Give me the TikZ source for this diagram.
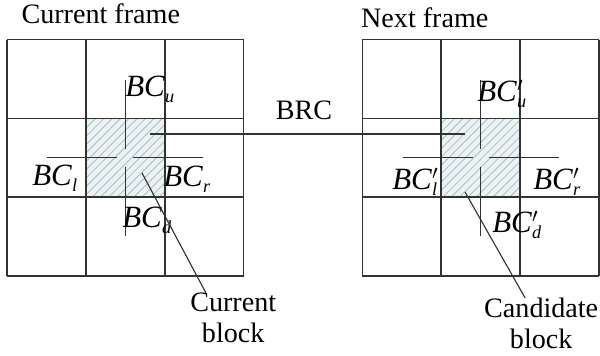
\documentclass[tikz,border=0pt]{standalone}
\usepackage{fontspec}
\setmainfont{Liberation Serif}
\usepackage{tikz}
\usetikzlibrary{patterns.meta}
\definecolor{gridgray}{RGB}{50,50,50}
\definecolor{hatchbg}{RGB}{236,242,239}
\definecolor{hatchln}{RGB}{165,188,212}

% block labels with subscripts
\newcommand{\bcsub}[1]{{\fontsize{22}{22}\selectfont\textit{BC}}\raisebox{-4pt}{\fontsize{13}{13}\selectfont\textit{#1}}}
\newcommand{\bcdash}[1]{{\fontsize{22}{22}\selectfont\textit{BC}}\rlap{$'$}\raisebox{-4pt}{\fontsize{13}{13}\selectfont\textit{#1}}}

\begin{document}
\begin{tikzpicture}[
    every node/.style={inner sep=0pt, font=\fontsize{20}{22}\selectfont},
    gridline/.style={draw=gridgray, line width=1.1pt},
    thinline/.style={draw=gridgray, line width=0.8pt},
    hatched/.style={fill=hatchbg, postaction={pattern={Lines[angle=45,distance=4.2pt,line width=0.6pt]}, pattern color=hatchln}}
]
    \useasboundingbox (0,0) rectangle (15,8.9);

    % hatched middle blocks
    \node[hatched, minimum size=1.97cm] at (3.135, 4.955) (cur) {};
    \node[hatched, minimum size=1.97cm] at (12.015, 4.955) (cand) {};

    % the two 3x3 grids
    \foreach \x in {0.18, 9.06} {
        \foreach \i in {0,1,2,3} {
            \draw[gridline] (\x+1.97*\i, 2.0) -- (\x+1.97*\i, 7.91);
            \draw[gridline] (\x, 2.0+1.97*\i) -- (\x+5.91, 2.0+1.97*\i);
        }
    }

    % crosses through the middle blocks
    \foreach \c in {cur, cand} {
        \draw[thinline] ([yshift=0.22cm]\c.center) -- ++(0, 1.73);
        \draw[thinline] ([yshift=-0.22cm]\c.center) -- ++(0, -1.73);
        \draw[thinline] ([xshift=-0.2cm]\c.center) -- ++(-1.75, 0);
        \draw[thinline] ([xshift=0.2cm]\c.center) -- ++(1.75, 0);
    }

    % frame titles
    \node[anchor=base] at (2.52, 8.3) (curframe) {Current frame};
    \node[anchor=base] at (10.62, 8.22) (nextframe) {Next frame};

    % labels, current frame
    \node[anchor=base west] at (3.125, 6.475) (bcu) {\bcsub{u}};
    \node[anchor=base west] at (0.8, 4.25) (bcl) {\bcsub{l}};
    \node[anchor=base west] at (4.075, 4.225) (bcr) {\bcsub{r}};
    \node[anchor=base west] at (3.05, 3.2) (bcd) {\bcsub{d}};

    % labels, next frame
    \node[anchor=base west] at (11.925, 6.35) (bcpu) {\bcdash{u}};
    \node[anchor=base west] at (9.8, 4.15) (bcpl) {\bcdash{l}};
    \node[anchor=base west] at (13.325, 4.15) (bcpr) {\bcdash{r}};
    \node[anchor=base west] at (12.3, 3.075) (bcpd) {\bcdash{d}};

    % BRC link between the blocks
    \node[anchor=base] at (7.6, 5.9) (brc) {BRC};
    \coordinate (brcL) at (3.75, 5.55);
    \coordinate (brcR) at (11.625, 5.55);
    \draw[thinline] (brcL) -- (brcR);

    % block captions
    \node[anchor=north, align=center] at (5.83, 1.575) (curlabel) {Current\\block};
    \node[anchor=north, align=center] at (13.53, 1.45) (candlabel) {Candidate\\block};
    \coordinate (curpt) at (3.55, 4.575);
    \coordinate (candpt) at (11.625, 4.1);
    \draw[thinline] (curpt) -- ([xshift=0.4cm]curlabel.north west);
    \draw[thinline] (candpt) -- ([xshift=1.03cm]candlabel.north west);
\end{tikzpicture}
\end{document}
